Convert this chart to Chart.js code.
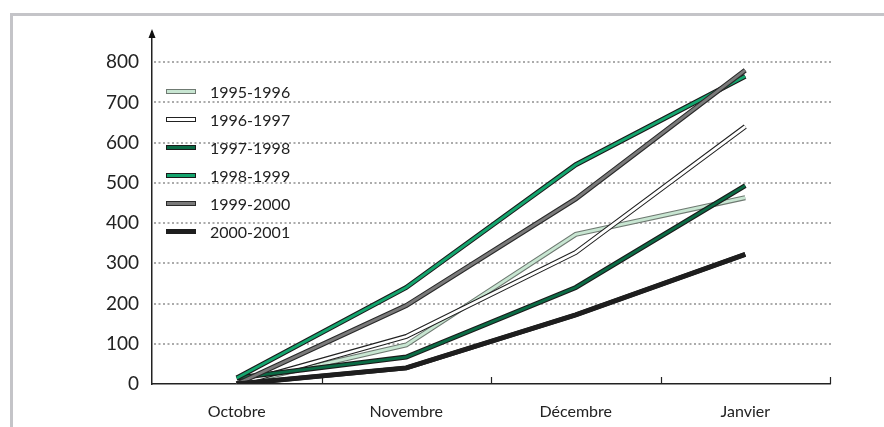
<!DOCTYPE html>
<html>
<head>
<meta charset="utf-8">
<script src="https://cdn.jsdelivr.net/npm/chart.js"></script>
<style>
  html, body { margin: 0; padding: 0; background: #fff; }
  #wrap { position: relative; width: 884px; height: 427px; overflow: hidden; }
  #frame { position: absolute; left: 10px; top: 13px; width: 900px; height: 450px;
           border-top: 3px solid #c4c4c8; border-left: 3px solid #c4c4c8; }
  canvas { position: absolute; left: 0; top: 0; }
  #legend { position: absolute; left: 166px; top: 77px; font-family: Lato, "Open Sans", sans-serif;
            font-size: 16px; color: #222; }
  .item { height: 28px; display: flex; align-items: center; }
  .box { width: 28px; height: 3px; border: 1px solid #333; margin-right: 14px; }
</style>
</head>
<body>
<div id="wrap">
  <div id="frame"></div>
  <canvas id="c" width="884" height="427"></canvas>
  <div id="legend"></div>
</div>
<script>
// Catégories et séries
const months = ["Octobre", "Novembre", "Décembre", "Janvier"];
const seasons = ["1995-1996", "1996-1997", "1997-1998", "1998-1999", "1999-2000", "2000-2001"];
const s1995 = [0, 97, 372, 463];
const s1996 = [0, 118, 327, 640];
const s1997 = [15, 67, 240, 493];
const s1998 = [15, 240, 545, 765];
const s1999 = [0, 195, 460, 780];
const s2000 = [0, 40, 172, 322];
const yTicks = [0, 100, 200, 300, 400, 500, 600, 700, 800];

const series = [s1995, s1996, s1997, s1998, s1999, s2000];
const fills = ["#c8e6d2", "#ffffff", "#0b6b45", "#14a56e", "#7a7a7a", "#1e1e1e"];
const edges = ["#6f7a72", "#222222", "#1a1a1a", "#1a1a1a", "#2a2a2a", "#1e1e1e"];

// deux tracés par série : contour sombre puis couleur
const datasets = [];
series.forEach((data, i) => {
  datasets.push({ label: seasons[i] + " contour", data: data, borderColor: edges[i],
    borderWidth: 5, pointRadius: 0, tension: 0, order: 2 * (5 - i) + 1, borderCapStyle: "butt" });
  datasets.push({ label: seasons[i], data: data, borderColor: fills[i],
    borderWidth: i === 5 ? 4.5 : 2.8, pointRadius: 0, tension: 0, order: 2 * (5 - i), borderCapStyle: "butt" });
});

// légende HTML
const legend = document.getElementById("legend");
seasons.forEach((name, i) => {
  const row = document.createElement("div");
  row.className = "item";
  row.innerHTML = `<span class="box" style="background:${fills[i]};border-color:${edges[i]}"></span>${name}`;
  legend.appendChild(row);
});

// lignes de grille pointillées
const dottedGrid = {
  id: "dottedGrid",
  beforeDatasetsDraw(chart) {
    const ctx = chart.ctx, a = chart.chartArea, y = chart.scales.y;
    ctx.save();
    ctx.strokeStyle = "#ababab";
    ctx.lineWidth = 2;
    ctx.setLineDash([2, 2.5]);
    yTicks.forEach(v => {
      if (v === 0) return;
      const py = Math.round(y.getPixelForValue(v));
      ctx.beginPath();
      ctx.moveTo(a.left + 2, py);
      ctx.lineTo(a.right + 2, py);
      ctx.stroke();
    });
    ctx.restore();
  }
};

// flèche de l'axe et graduations vers l'intérieur
const axisDeco = {
  id: "axisDeco",
  afterDraw(chart) {
    const ctx = chart.ctx, a = chart.chartArea;
    ctx.save();
    ctx.fillStyle = "#111";
    ctx.beginPath();
    ctx.moveTo(a.left, a.top - 3);
    ctx.lineTo(a.left - 3.5, a.top + 6);
    ctx.lineTo(a.left + 3.5, a.top + 6);
    ctx.closePath();
    ctx.fill();
    ctx.strokeStyle = "#222";
    ctx.lineWidth = 1.2;
    const w = (a.right - a.left) / months.length;
    for (let i = 1; i <= months.length; i++) {
      const x = Math.round(a.left + w * i) + 0.5;
      ctx.beginPath();
      ctx.moveTo(x, a.bottom);
      ctx.lineTo(x, a.bottom - 7);
      ctx.stroke();
    }
    ctx.restore();
  }
};

new Chart(document.getElementById("c"), {
  type: "line",
  data: { labels: months, datasets: datasets },
  options: {
    responsive: false,
    animation: false,
    layout: { padding: { top: 32, right: 54, left: 0, bottom: 0 } },
    plugins: { legend: { display: false }, tooltip: { enabled: false } },
    scales: {
      x: {
        offset: true,
        grid: { display: false },
        border: { display: true, color: "#222", width: 1.5 },
        ticks: { color: "#222", padding: 10, font: { family: "Lato", size: 16 } },
        afterFit(s) { s.height = 43; }
      },
      y: {
        min: 0,
        max: 875,
        afterBuildTicks(s) { s.ticks = yTicks.map(v => ({ value: v })); },
        grid: { display: false, drawTicks: false },
        border: { display: true, color: "#222", width: 1.5 },
        ticks: { color: "#222", padding: 13, font: { family: "Lato", size: 19 } },
        afterFit(s) { s.width = 152; }
      }
    }
  },
  plugins: [dottedGrid, axisDeco]
});
</script>
</body>
</html>
